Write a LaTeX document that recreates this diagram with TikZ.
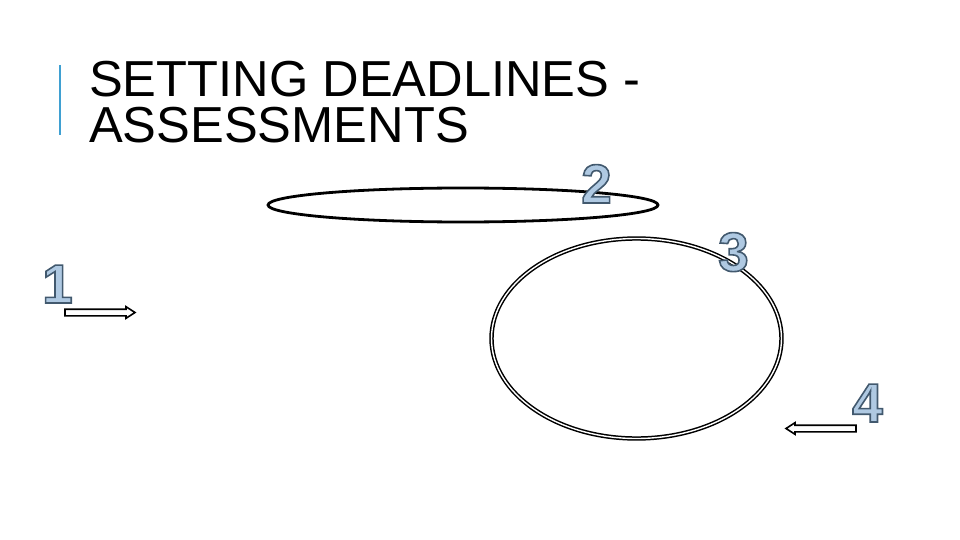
\documentclass[tikz,border=0pt]{standalone}
\usepackage{fontspec}
\setmainfont{Liberation Sans}
\newfontfamily\digitfont{Liberation Sans Bold}

\definecolor{barblue}{HTML}{3FA0D2}
\definecolor{digitfill}{HTML}{AFC9E2}

% Umriss-Ziffer (Fill + Stroke)
\newcommand{\hatchdigit}[1]{\textcolor{digitfill}{\special{pdf:literal direct 2 Tr 1.6 w 0.26 0.35 0.43 RG}#1\special{pdf:literal direct 0 Tr}}}

\begin{document}
\begin{tikzpicture}[x=1pt,y=-1pt,
    title/.style={anchor=base west,inner sep=0pt,font=\fontsize{50.6}{46}\selectfont},
    num/.style={anchor=base west,inner sep=0pt,font=\digitfont\fontsize{55}{55}\selectfont},
    blockarrow/.style={line width=1.6pt,line join=miter,fill=white},
    ring/.style={line width=1.5pt,double,double distance=1.4pt}]
    \useasboundingbox (0,0) rectangle (960,540);

    % Titel
    \draw[barblue,line width=2pt] (60,65) -- (60,135);
    \node[title] (t1) at (89,97) {SETTING DEADLINES -};
    \node[title] (t2) at (89,143) {ASSESSMENTS};

    % Ellipsen
    \draw[line width=2.8pt] (463,205) ellipse [x radius=195, y radius=17];
    \draw[ring] (636.5,338.5) ellipse [x radius=145, y radius=100];

    % Ziffern
    \node[num] (n1) at (42,303) {\hatchdigit{1}};
    \node[num] (n2) at (581,203) {\hatchdigit{2}};
    \node[num] (n3) at (718,271) {\hatchdigit{3}};
    \node[num] (n4) at (852,422) {\hatchdigit{4}};

    % Pfeile
    \coordinate (a1s) at (65,312.5);
    \coordinate (a4s) at (856,428.5);
    \draw[blockarrow,shift={(a1s)}] (0,-3.3) -- (61,-3.3) -- (61,-5.8) -- (70,0)
                                    -- (61,5.8) -- (61,3.3) -- (0,3.3) -- cycle;
    \draw[blockarrow,shift={(a4s)},xscale=-1] (0,-3.3) -- (61,-3.3) -- (61,-5.8) -- (70,0)
                                    -- (61,5.8) -- (61,3.3) -- (0,3.3) -- cycle;
\end{tikzpicture}
\end{document}
